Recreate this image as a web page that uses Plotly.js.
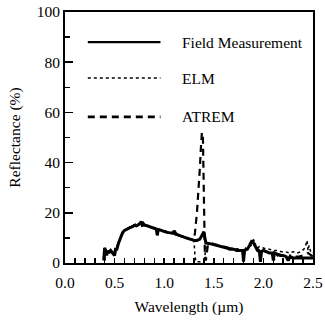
<!DOCTYPE html>
<html>
<head>
<meta charset="utf-8">
<script src="https://cdn.plot.ly/plotly-3.0.1.min.js"></script>
<style>html,body{margin:0;padding:0;background:#fff;}#chart{width:325px;height:324px;}</style>
</head>
<body>
<div id="chart"></div>
<script>
// Wavelength (µm) and reflectance (%)
const fieldWl = [0.39,0.40,0.41,0.42,0.43,0.44,0.46,0.48,0.50,0.51,0.52,0.54,0.56,0.58,0.60,0.62,0.65,0.68,0.70,0.72,0.75,0.77,0.78,0.80,0.83,0.86,0.88,0.90,0.92,0.93,0.94,0.97,1.00,1.03,1.06,1.09,1.10,1.12,1.15,1.18,1.20,1.22,1.25,1.28,1.30,1.33,1.36,1.38,1.40,1.41,1.42,1.45,1.48,1.50,1.53,1.56,1.60,1.63,1.66,1.70,1.73,1.76,1.79,1.80,1.81,1.84,1.86,1.88,1.90,1.92,1.94,1.96,1.97,1.98,2.00,2.03,2.06,2.09,2.10,2.11,2.14,2.17,2.20,2.23,2.25,2.27,2.30,2.35,2.40,2.45,2.50];
const fieldR  = [1,6,5,3,5,4,5,4,3,6,5,8,10,12,13,13.5,14,14.5,15,14.8,15.5,16.5,15,15.2,14.8,14.5,14.2,13.8,13.5,11,13.3,13,12.5,12.2,12,11.8,12.8,11.5,11,10.5,10.3,10,9.6,9.3,9,9,9.5,11,12.5,10,8,7.8,7.5,7.3,7,6.8,6.5,6,5.5,5.5,5,5,5,0.5,5,5.5,7,8.5,8,6.5,5,4.5,0.5,4.5,5,4.5,4,4,1,4,3.5,3,3,2.5,1,2.5,2,2,2,2,2];

const elmWl = [0.40,0.40,0.42,0.45,0.48,0.50,0.52,0.55,0.58,0.60,0.65,0.70,0.75,0.78,0.80,0.85,0.90,0.95,1.00,1.05,1.10,1.15,1.20,1.25,1.28,1.30,1.31,1.32,1.36,1.40,1.41,1.42,1.43,1.46,1.50,1.55,1.60,1.65,1.70,1.75,1.78,1.80,1.82,1.85,1.88,1.90,1.92,1.94,1.96,2.00,2.03,2.06,2.10,2.14,2.18,2.22,2.26,2.30,2.34,2.38,2.42,2.44,2.45,2.46,2.48,2.50];
const elmR  = [1,5.5,4,5,4.5,4,6,9,12,13,14.3,15.3,16,17,15.5,14.8,14,13.5,12.8,12.3,12,11.2,10.5,9.8,9.5,9,3,0.5,0.5,1,3,7,8,7.8,7.5,7,6.5,6,5.8,5.5,5.5,3,6,6.5,7,6.5,7.5,6,6.5,6,5.5,5.5,5,5,4.5,4.5,4,4.5,4,4.5,6,9,5,7,4,4];

const atremWl = [0.40,0.40,0.42,0.45,0.48,0.50,0.52,0.55,0.58,0.60,0.65,0.70,0.75,0.78,0.80,0.85,0.90,0.95,1.00,1.05,1.10,1.15,1.20,1.25,1.28,1.30,1.31,1.33,1.35,1.36,1.37,1.38,1.39,1.395,1.40,1.405,1.41,1.42,1.43,1.44,1.46,1.50,1.55,1.60,1.65,1.70,1.75,1.79,1.80,1.81,1.85,1.88,1.90,1.93,1.96,1.97,1.98,2.00,2.05,2.10,2.11,2.15,2.20,2.25,2.27,2.30,2.35,2.40,2.45,2.50];
const atremR  = [1,6,4,5,4,3.5,6,9,12,13,14,15,15.5,16,15,14.5,13.8,13.2,12.5,12,11.8,11,10.3,9.6,9.3,9.5,12,20,30,38,46,52,51,40,25,12,3,1,4,7,8,7.5,7,6.5,6,5.5,5,5,1,5,6.5,8.5,9,6,5,1,4.5,5,4,3,1,3.5,3,1.5,3,2.5,2.5,3,4,2.5];

const xTicks = [0.0,0.5,1.0,1.5,2.0,2.5];
const yTicks = [0,20,40,60,80,100];
const legendNames = ['Field Measurement','ELM','ATREM'];

const serif = '"Times New Roman", "Liberation Serif", "DejaVu Serif", serif';
const traces = [
  {x: fieldWl, y: fieldR, mode:'lines', name: legendNames[0], line:{color:'#000', width:3}},
  {x: elmWl, y: elmR, mode:'lines', name: legendNames[1], line:{color:'#000', width:1.5, dash:'dot'}},
  {x: atremWl, y: atremR, mode:'lines', name: legendNames[2], line:{color:'#000', width:2.2, dash:'7px,5px'}}
];

// legend drawn inside the plot (paper coordinates)
const legY = [0.880, 0.737, 0.582];
const legDash = ['solid','dot','7px,5px'];
const legW = [2.2, 1.5, 2.6];
const shapes = legY.map((yy,i)=>({type:'line', xref:'paper', yref:'paper', x0:0.092, x1:0.385, y0:yy, y1:yy,
  line:{color:'#000', width:legW[i], dash:legDash[i]}}));
const annotations = legY.map((yy,i)=>({xref:'paper', yref:'paper', x:0.465, y:yy, xanchor:'left', yanchor:'middle',
  text: legendNames[i], showarrow:false, font:{family:serif, size:15.5, color:'#000'}}));

const layout = {
  width:325, height:324,
  margin:{l:65, r:12, t:12, b:61},
  paper_bgcolor:'#fff', plot_bgcolor:'#fff',
  showlegend:false,
  font:{family:serif, size:14, color:'#000'},
  xaxis:{range:[0,2.5001], tickvals:xTicks, ticktext:xTicks.map(v=>v.toFixed(1)),
    ticklabeloverflow:'allow', ticklabelstandoff:4,
    ticks:'inside', ticklen:5, tickwidth:1.5, tickcolor:'#000',
    minor:{dtick:0.1, ticks:'inside', ticklen:5, tickwidth:1.5, tickcolor:'#000'},
    showline:true, linecolor:'#000', linewidth:2, mirror:true, showgrid:false, zeroline:false,
    title:{text:'Wavelength (\u00b5m)', font:{family:serif, size:15.5}, standoff:12},
    tickfont:{family:serif, size:15.5}},
  yaxis:{range:[0,100], tickvals:yTicks,
    ticks:'inside', ticklen:8, tickwidth:1.5, tickcolor:'#000',
    minor:{dtick:10, ticks:'inside', ticklen:5, tickwidth:1.5, tickcolor:'#000'},
    showline:true, linecolor:'#000', linewidth:2, mirror:true, showgrid:false, zeroline:false,
    title:{text:'Reflectance (%)', font:{family:serif, size:15.5}, standoff:12},
    tickfont:{family:serif, size:15.5}},
  shapes: shapes,
  annotations: annotations
};
Plotly.newPlot('chart', traces, layout, {displayModeBar:false, staticPlot:true});
</script>
</body>
</html>
